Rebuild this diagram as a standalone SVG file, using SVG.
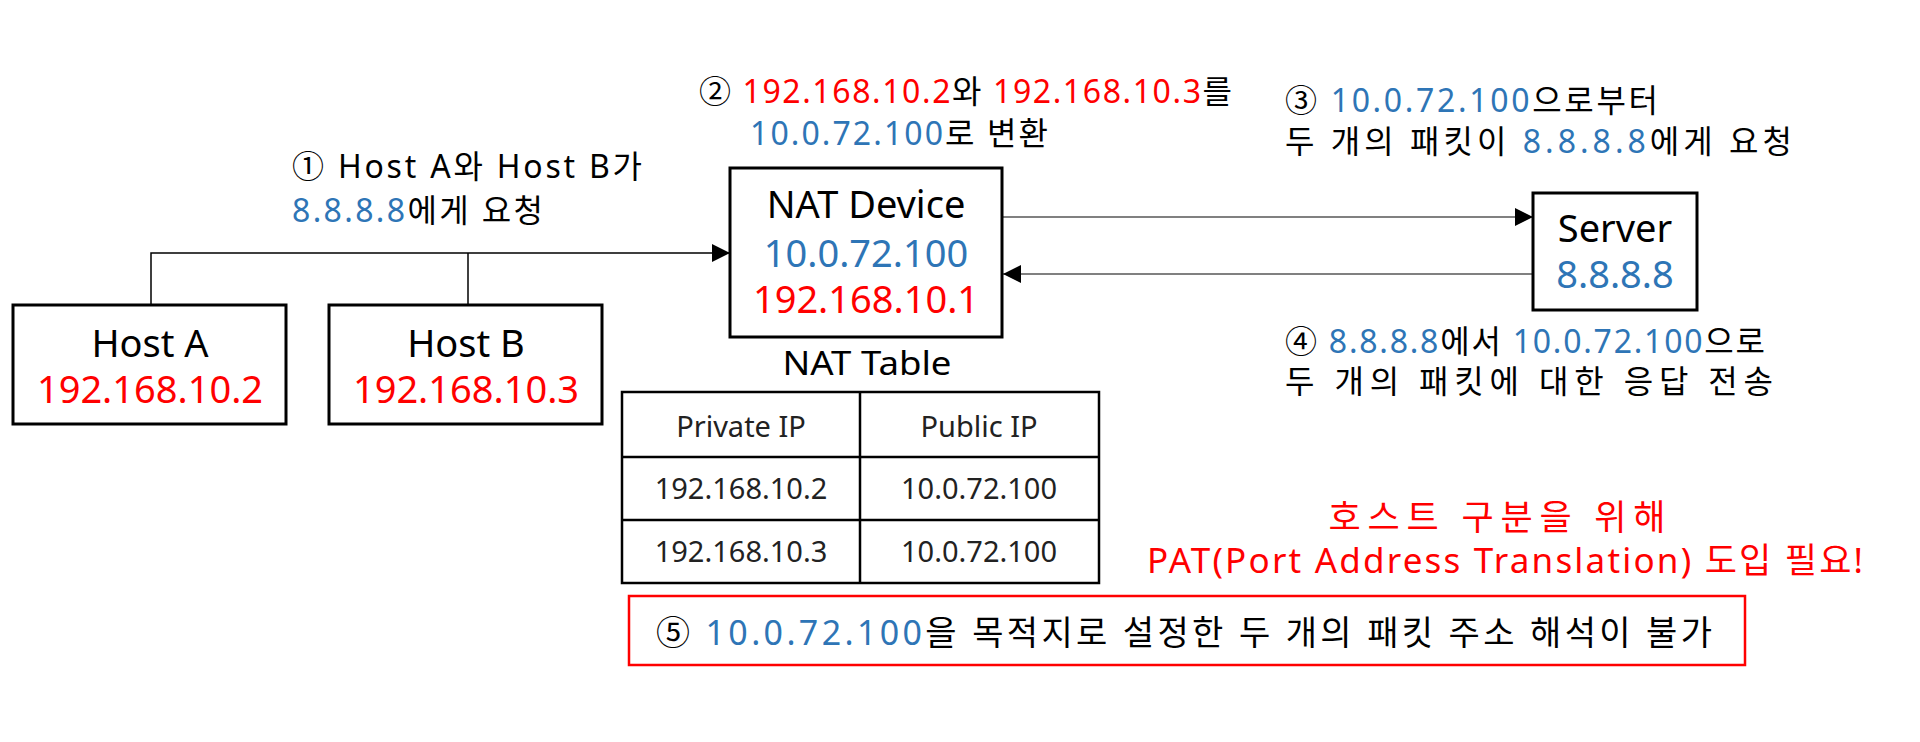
<svg xmlns="http://www.w3.org/2000/svg" width="1920" height="742" viewBox="0 0 1920 742">
<defs>
<style>
text{font-family:"Noto Sans","Noto Sans CJK KR",sans-serif;fill:#000}
.box{fill:#fff;stroke:#000;stroke-width:3}
.tbl{fill:none;stroke:#000;stroke-width:2.5}
.c{text-anchor:middle}
.n{font-size:38px}
.lbl{font-size:32px}
.td{font-size:29px;fill:#222}
.r{fill:#ff0000}
.b{fill:#2e75b6}
.blk{stroke:#000;stroke-width:1.5;fill:none}
.gry{stroke:#808080;stroke-width:2;fill:none}
</style>
<marker id="ah" markerUnits="userSpaceOnUse" markerWidth="20" markerHeight="20" viewBox="0 0 20 20" refX="18" refY="10" orient="auto">
<path d="M0 1 L18 10 L0 19 Z" fill="#000"/>
</marker>
</defs>
<rect width="1920" height="742" fill="#fff"/>
<g id="connectors">
<path class="blk" d="M151 305 V253 H730" marker-end="url(#ah)"/>
<path class="blk" d="M468 305 V253"/>
<path class="gry" d="M1002 217 H1533" marker-end="url(#ah)"/>
<path class="gry" d="M1533 274 H1003" marker-end="url(#ah)"/>
</g>
<g id="hostA">
<rect class="box" x="13" y="305" width="273" height="119"/>
<text class="n c" x="150" y="357">Host A</text>
<text class="n c r" x="150" y="403">192.168.10.2</text>
</g>
<g id="hostB">
<rect class="box" x="329" y="305" width="273" height="119"/>
<text class="n c" x="466" y="357">Host B</text>
<text class="n c r" x="466" y="403">192.168.10.3</text>
</g>
<g id="natDevice">
<rect class="box" x="730" y="168" width="272" height="169"/>
<text class="n c" x="866" y="218">NAT Device</text>
<text class="n c b" x="866" y="267">10.0.72.100</text>
<text class="n c r" x="866" y="313">192.168.10.1</text>
</g>
<g id="server">
<rect class="box" x="1533" y="193" width="164" height="117"/>
<text class="n c" x="1615" y="242">Server</text>
<text class="n c b" x="1615" y="288">8.8.8.8</text>
</g>
<g id="natTable">
<text class="c" x="867" y="375" font-size="33" textLength="169" lengthAdjust="spacingAndGlyphs">NAT Table</text>
<rect class="tbl" x="622" y="392" width="477" height="191"/>
<path class="tbl" d="M860 392 V583 M622 457 H1099 M622 520 H1099"/>
<text class="td c" x="741" y="437">Private IP</text>
<text class="td c" x="979" y="437">Public IP</text>
<text class="td c" x="741" y="499">192.168.10.2</text>
<text class="td c" x="979" y="499">10.0.72.100</text>
<text class="td c" x="741" y="562">192.168.10.3</text>
<text class="td c" x="979" y="562">10.0.72.100</text>
</g>
<g id="label1">
<text class="lbl" x="292" y="178" textLength="350" lengthAdjust="spacing">① Host A와 Host B가</text>
<text class="lbl" x="292" y="222" textLength="251" lengthAdjust="spacing"><tspan class="b">8.8.8.8</tspan>에게 요청</text>
</g>
<g id="label2">
<text class="lbl" x="699" y="103" textLength="533" lengthAdjust="spacing">② <tspan class="r">192.168.10.2</tspan>와 <tspan class="r">192.168.10.3</tspan>를</text>
<text class="lbl" x="750" y="145" textLength="298" lengthAdjust="spacing"><tspan class="b">10.0.72.100</tspan>로 변환</text>
</g>
<g id="label3">
<text class="lbl" x="1285" y="112" textLength="373" lengthAdjust="spacing">③ <tspan class="b">10.0.72.100</tspan>으로부터</text>
<text class="lbl" x="1285" y="153" textLength="507" lengthAdjust="spacing">두 개의 패킷이 <tspan class="b">8.8.8.8</tspan>에게 요청</text>
</g>
<g id="label4">
<text class="lbl" x="1285" y="353" textLength="480" lengthAdjust="spacing">④ <tspan class="b">8.8.8.8</tspan>에서 <tspan class="b">10.0.72.100</tspan>으로</text>
<text class="lbl" x="1285" y="393" textLength="488" lengthAdjust="spacing">두 개의 패킷에 대한 응답 전송</text>
</g>
<g id="patNote">
<text class="c r" x="1497" y="530" font-size="35" textLength="337" lengthAdjust="spacing">호스트 구분을 위해</text>
<text class="c r" x="1505" y="573" font-size="35" textLength="716" lengthAdjust="spacing">PAT(Port Address Translation) 도입 필요!</text>
</g>
<g id="conclusion">
<rect x="629" y="596" width="1116" height="69" fill="none" stroke="#ff0000" stroke-width="2.5"/>
<text x="656" y="645" font-size="34" textLength="1056" lengthAdjust="spacing">⑤ <tspan class="b">10.0.72.100</tspan>을 목적지로 설정한 두 개의 패킷 주소 해석이 불가</text>
</g>
</svg>
